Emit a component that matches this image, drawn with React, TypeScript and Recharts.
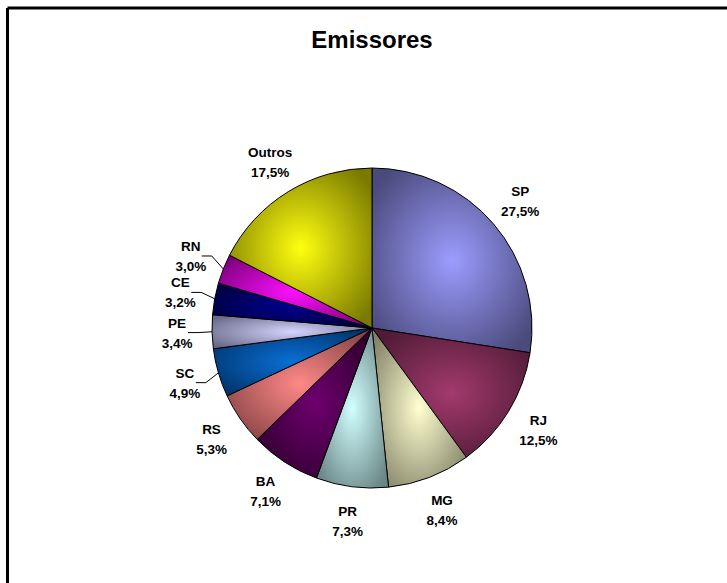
import React from 'react';
import { PieChart, Pie, Cell } from 'recharts';

const states = ['SP', 'RJ', 'MG', 'PR', 'BA', 'RS', 'SC', 'PE', 'CE', 'RN', 'Outros'];
const shares = [27.5, 12.5, 8.4, 7.3, 7.1, 5.3, 4.9, 3.4, 3.2, 3.0, 17.5];
const lightColors = ['#9c9cff', '#a33a6e', '#ffffd0', '#d2ffff', '#6e006e', '#ff8888', '#0a70d6', '#d4d4ff', '#000090', '#ff10ff', '#ffff10'];
const darkColors = ['#4a4a7c', '#4e1a34', '#84846a', '#6a8686', '#2e002e', '#864444', '#00336a', '#6a6a88', '#00003c', '#7c007c', '#7a7a00'];

const data = states.map((name, i) => ({ name, value: shares[i] }));

const RAD = Math.PI / 180;
const fmt = (v: number) => v.toFixed(1).replace('.', ',') + '%';

const renderLabel = (props: any) => {
  const { cx, cy, midAngle, outerRadius, name, value } = props;
  const lr = outerRadius + 35;
  const lx = cx + lr * Math.cos(-midAngle * RAD);
  const ly = cy + lr * Math.sin(-midAngle * RAD);
  const ex = cx + outerRadius * Math.cos(-midAngle * RAD);
  const ey = cy + outerRadius * Math.sin(-midAngle * RAD);
  const needsLine = value < 5;
  return (
    <g>
      {needsLine && (
        <polyline
          points={`${lx + 11},${ly} ${lx + 21},${ly} ${ex},${ey}`}
          fill="none"
          stroke="#000"
          strokeWidth={1}
        />
      )}
      <text x={lx} y={ly - 5} textAnchor="middle" fontFamily="'Liberation Sans', Arial, sans-serif" fontWeight={700} fontSize={13.5} fill="#000">
        {name}
      </text>
      <text x={lx} y={ly + 15} textAnchor="middle" fontFamily="'Liberation Sans', Arial, sans-serif" fontWeight={700} fontSize={13.5} fill="#000">
        {fmt(value)}
      </text>
    </g>
  );
};

export default function App() {
  return (
    <div style={{ position: 'absolute', left: 0, top: 0, width: 727, height: 583, background: '#fff', overflow: 'hidden' }}>
      <svg width={727} height={583} style={{ position: 'absolute', left: 0, top: 0 }}>
        <line x1={7.5} y1={8} x2={727} y2={8} stroke="#000" strokeWidth={3} />
        <line x1={7.5} y1={8} x2={7.5} y2={583} stroke="#000" strokeWidth={3} />
        <text x={372} y={48} textAnchor="middle" fontFamily="'Liberation Sans', Arial, sans-serif" fontWeight={700} fontSize={24} fill="#000">
          Emissores
        </text>
      </svg>
      <div style={{ position: 'absolute', left: 0, top: 0 }}>
        <PieChart width={727} height={583} margin={{ top: 0, right: 0, bottom: 0, left: 0 }}>
          <defs>
            {states.map((s, i) => (
              <radialGradient key={s} id={`shade-${i}`} cx="50%" cy="50%" r="62%">
                <stop offset="0%" stopColor={lightColors[i]} />
                <stop offset="100%" stopColor={darkColors[i]} />
              </radialGradient>
            ))}
          </defs>
          <Pie
            data={data}
            dataKey="value"
            nameKey="name"
            cx={372}
            cy={328}
            outerRadius={160}
            startAngle={90}
            endAngle={-270}
            stroke="#000"
            strokeWidth={1}
            label={renderLabel}
            labelLine={false}
            isAnimationActive={false}
          >
            {data.map((d, i) => (
              <Cell key={d.name} fill={`url(#shade-${i})`} />
            ))}
          </Pie>
        </PieChart>
      </div>
    </div>
  );
}
